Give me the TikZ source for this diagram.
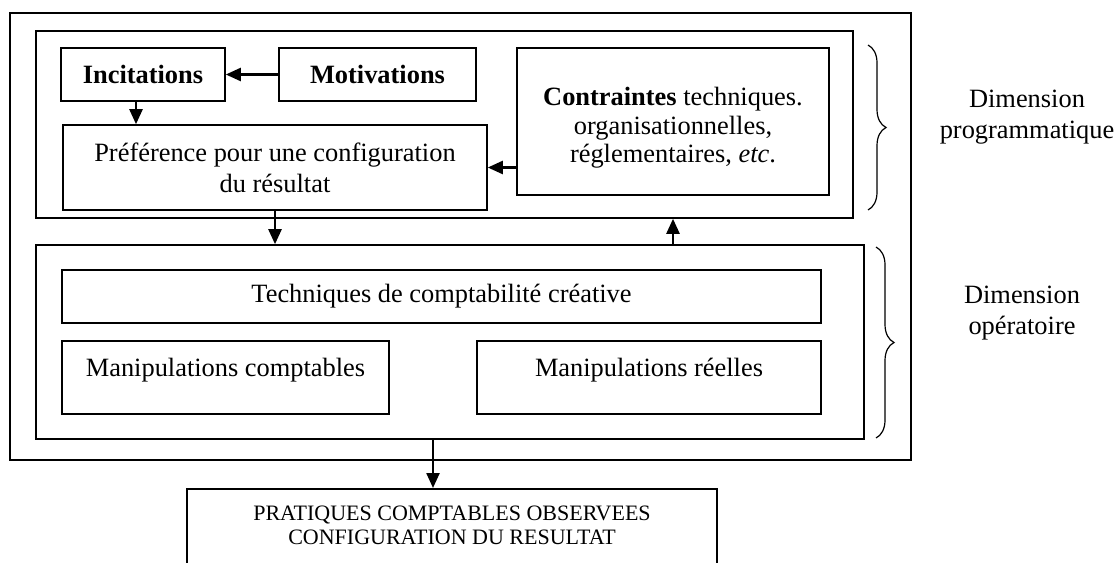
\documentclass[tikz,border=0pt]{standalone}
\usepackage{fontspec}
\setmainfont{Liberation Serif}
\usetikzlibrary{arrows.meta, calc, decorations.pathreplacing}

\begin{document}
\begin{tikzpicture}[
    x=0.5pt, y=-0.5pt,
    >={Triangle[length=7.5pt, width=6.5pt]},
    box/.style={draw, line width=0.8pt, inner sep=0pt, align=center, font=\fontsize{13.2pt}{15.5pt}\selectfont},
    frame/.style={draw, line width=0.8pt, inner sep=0pt},
    arr/.style={->, line width=1.2pt},
    dimbrace/.style={decorate, decoration={brace, amplitude=9pt}, line width=0.6pt},
    dimlabel/.style={align=center, font=\fontsize{13.2pt}{15.5pt}\selectfont},
]
    \useasboundingbox (0,0) rectangle (1117,562);
    % cadres
    \node[frame, minimum width=450.5pt, minimum height=223.5pt] (cadre) at (460.5,236.5) {};
    \node[frame, minimum width=408.5pt, minimum height=93.5pt] (prog) at (444.5,124.5) {};
    \node[frame, minimum width=414pt, minimum height=97pt] (oper) at (450,342) {};
    % dimension programmatique
    \node[box, minimum width=82pt, minimum height=26.5pt] (incit) at (143,74.5) {\textbf{Incitations}};
    \node[box, minimum width=98.5pt, minimum height=26.5pt] (motiv) at (377.5,74.5) {\textbf{Motivations}};
    \node[box, minimum width=212pt, minimum height=42.5pt] (pref) at (275,167.5) {Préférence pour une configuration\\du résultat};
    \node[box, minimum width=156pt, minimum height=73.5pt, font=\fontsize{13.2pt}{14.3pt}\selectfont, text height=44.1pt, text depth=2.9pt] (contr) at (673,121.5) {\textbf{Contraintes} techniques.\\organisationnelles,\\réglementaires, \emph{etc}.};
    % dimension operatoire
    \node[box, minimum width=379.5pt, minimum height=26.5pt] (tech) at (441.5,296.5) {Techniques de comptabilité créative};
    \node[box, minimum width=163.5pt, minimum height=36.5pt, text height=9pt, text depth=9.6pt] (mcompt) at (225.5,377.5) {Manipulations comptables};
    \node[box, minimum width=172pt, minimum height=36.5pt, text height=9pt, text depth=9.6pt] (mreel) at (649,377.5) {Manipulations réelles};
    % resultat
    \node[box, anchor=north, minimum width=265pt, inner ysep=8.4pt, text depth=40pt, font=\fontsize{11pt}{12pt}\selectfont] (result) at (452,488) {PRATIQUES COMPTABLES OBSERVEES\\CONFIGURATION DU RESULTAT};
    \coordinate (gap) at ($(mcompt.east)!0.5!(mreel.west)$);
    % fleches
    \draw[arr] (motiv) -- (incit);
    \draw[arr] ([xshift=-3.5pt]incit.south) -- ([xshift=-3.5pt]incit.south |- pref.north);
    \draw[arr] (contr.west |- pref) -- (pref.east);
    \draw[arr] (pref.south) -- (pref.south |- oper.north);
    \draw[arr] (contr.south |- oper.north) -- (contr.south |- prog.south);
    \draw[arr] (gap |- oper.south) -- (gap |- result.north);
    % accolades
    \draw[dimbrace] (868,45) -- (868,210);
    \draw[dimbrace] (876,247) -- (876,438);
    \node[dimlabel] (dimprog) at (1027,117) {Dimension\\programmatique};
    \node[dimlabel] (dimop) at (1022,313) {Dimension\\opératoire};
\end{tikzpicture}
\end{document}
